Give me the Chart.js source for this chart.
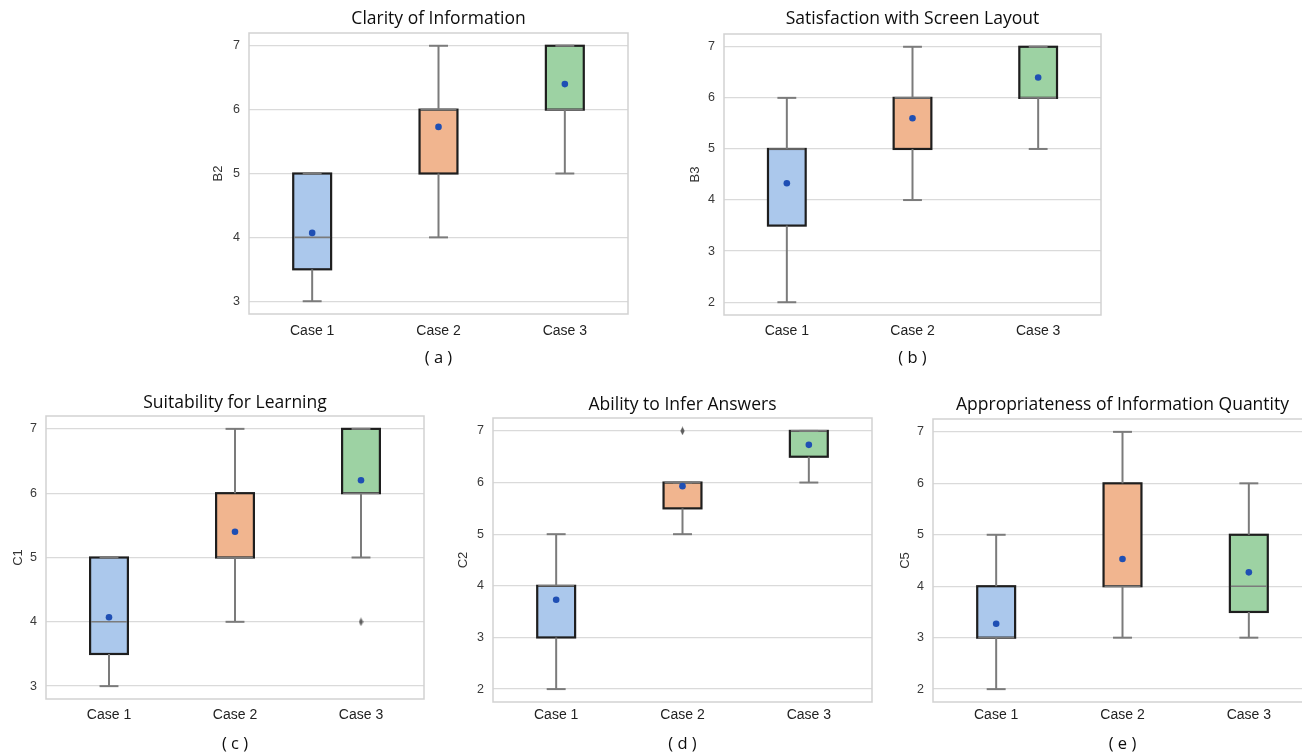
<!DOCTYPE html>
<html>
<head>
<meta charset="utf-8">
<title>Usability ratings by case</title>
<script src="https://cdn.jsdelivr.net/npm/chart.js@4.4.1/dist/chart.umd.min.js"></script>
<style>
  html, body { margin: 0; padding: 0; background: #ffffff; }
  body { position: relative; width: 1302px; height: 752px; overflow: hidden; }
  canvas { position: absolute; }
</style>
</head>
<body>
<canvas id="chartB2"></canvas>
<canvas id="chartB3"></canvas>
<canvas id="chartC1"></canvas>
<canvas id="chartC2"></canvas>
<canvas id="chartC5"></canvas>
<script>
// ---- shared categories and colours ----
const categories = ['Case 1', 'Case 2', 'Case 3'];
const boxColors = ['#abc8ec', '#f1b58f', '#9dd2a3'];

// ---- B2: Clarity of Information ----
const b2Low    = [3, 4, 5];
const b2Q1     = [3.5, 5, 6];
const b2Median = [4, 6, 6];
const b2Q3     = [5, 6, 7];
const b2High   = [5, 7, 7];
const b2Mean   = [4.07, 5.73, 6.4];
const b2Outliers = [];
const b2Ticks  = [3, 4, 5, 6, 7];

// ---- B3: Satisfaction with Screen Layout ----
const b3Low    = [2, 4, 5];
const b3Q1     = [3.5, 5, 6];
const b3Median = [5, 6, 6];
const b3Q3     = [5, 6, 7];
const b3High   = [6, 7, 7];
const b3Mean   = [4.33, 5.6, 6.4];
const b3Outliers = [];
const b3Ticks  = [2, 3, 4, 5, 6, 7];

// ---- C1: Suitability for Learning ----
const c1Low    = [3, 4, 5];
const c1Q1     = [3.5, 5, 6];
const c1Median = [4, 5, 6];
const c1Q3     = [5, 6, 7];
const c1High   = [5, 7, 7];
const c1Mean   = [4.07, 5.4, 6.2];
const c1Outliers = [{ x: 'Case 3', y: 4 }];
const c1Ticks  = [3, 4, 5, 6, 7];

// ---- C2: Ability to Infer Answers ----
const c2Low    = [2, 5, 6];
const c2Q1     = [3, 5.5, 6.5];
const c2Median = [4, 6, 7];
const c2Q3     = [4, 6, 7];
const c2High   = [5, 6, 7];
const c2Mean   = [3.73, 5.93, 6.73];
const c2Outliers = [{ x: 'Case 2', y: 7 }];
const c2Ticks  = [2, 3, 4, 5, 6, 7];

// ---- C5: Appropriateness of Information Quantity ----
const c5Low    = [2, 3, 3];
const c5Q1     = [3, 4, 3.5];
const c5Median = [3, 4, 4];
const c5Q3     = [4, 6, 5];
const c5High   = [5, 7, 6];
const c5Mean   = [3.27, 4.53, 4.27];
const c5Outliers = [];
const c5Ticks  = [2, 3, 4, 5, 6, 7];

Chart.defaults.font.family = "'Liberation Sans', Arial, sans-serif";
Chart.defaults.color = '#333333';

const TITLE_SIZE = 17.5;
const CAPTION_SIZE = 16.5;

// thin diamond marker used for fliers
const flierMarker = (() => {
  const c = document.createElement('canvas');
  c.width = 5; c.height = 9;
  const g = c.getContext('2d');
  g.fillStyle = '#5e5e5e';
  g.beginPath();
  g.moveTo(2.5, 0.3); g.lineTo(4.6, 4.5); g.lineTo(2.5, 8.7); g.lineTo(0.4, 4.5);
  g.closePath(); g.fill();
  return c;
})();

// draws the frame, box outlines, whiskers, caps and medians from the stats arrays
function boxPlugin(low, q1, median, q3, high) {
  return {
    id: 'boxWhiskers',
    beforeDatasetsDraw(chart) {
      const a = chart.chartArea, ctx = chart.ctx;
      ctx.save();
      ctx.strokeStyle = '#d2d2d2';
      ctx.lineWidth = 1.5;
      ctx.strokeRect(a.left, a.top, a.right - a.left, a.bottom - a.top);
      ctx.restore();
    },
    afterDatasetDraw(chart, args) {
      if (args.index !== 0) return;
      const ctx = chart.ctx, ys = chart.scales.y;
      const seg = (x1, y1, x2, y2) => { ctx.beginPath(); ctx.moveTo(x1, y1); ctx.lineTo(x2, y2); ctx.stroke(); };
      args.meta.data.forEach((bar, i) => {
        const cx = bar.x, half = bar.width / 2;
        const yQ1 = ys.getPixelForValue(q1[i]);
        const yQ3 = ys.getPixelForValue(q3[i]);
        const yLo = ys.getPixelForValue(low[i]);
        const yHi = ys.getPixelForValue(high[i]);
        const yMed = ys.getPixelForValue(median[i]);
        ctx.save();
        ctx.lineCap = 'butt';
        // box outline
        ctx.strokeStyle = '#1e1e1e';
        ctx.lineWidth = 2.2;
        ctx.strokeRect(cx - half, yQ3, 2 * half, yQ1 - yQ3);
        // whiskers
        ctx.strokeStyle = '#7b7b7b';
        ctx.lineWidth = 2;
        if (low[i] < q1[i]) seg(cx, yQ1, cx, yLo);
        if (high[i] > q3[i]) seg(cx, yQ3, cx, yHi);
        // caps
        seg(cx - half / 2, yLo, cx + half / 2, yLo);
        seg(cx - half / 2, yHi, cx + half / 2, yHi);
        // median
        ctx.lineWidth = 1.6;
        seg(cx - half + 1, yMed, cx + half - 1, yMed);
        ctx.restore();
      });
    }
  };
}

function makeChart(id, cfg) {
  const canvas = document.getElementById(id);
  const box = cfg.box, plot = cfg.plot;
  canvas.width = box.w; canvas.height = box.h;
  canvas.style.left = box.x + 'px';
  canvas.style.top = box.y + 'px';
  canvas.style.width = box.w + 'px';
  canvas.style.height = box.h + 'px';

  const titleLine = TITLE_SIZE * 1.2;
  const capLine = CAPTION_SIZE * 1.2;
  const titleTop = cfg.titleY - box.y - titleLine / 2;
  const titleBottom = Math.max(0, (plot.t - box.y) - titleTop - titleLine);
  const xAxisH = 28;
  const capTop = cfg.captionY - plot.b - xAxisH - capLine / 2;
  const capBottom = Math.max(0, (box.y + box.h - plot.b) - xAxisH - capTop - capLine);

  return new Chart(canvas, {
    type: 'bar',
    data: {
      labels: categories,
      datasets: [
        {
          type: 'bar',
          data: cfg.q1.map((v, i) => [v, cfg.q3[i]]),
          backgroundColor: boxColors,
          borderWidth: 0,
          barPercentage: 0.3,
          categoryPercentage: 1.0,
          order: 3
        },
        {
          type: 'line',
          data: cfg.outliers,
          showLine: false,
          pointStyle: flierMarker,
          pointRadius: 4,
          order: 2
        },
        {
          type: 'line',
          data: cfg.mean,
          showLine: false,
          pointStyle: 'circle',
          pointRadius: 3.3,
          pointBackgroundColor: '#1f4fb4',
          pointBorderWidth: 0,
          order: 1
        }
      ]
    },
    options: {
      responsive: false,
      animation: false,
      devicePixelRatio: 1,
      layout: { padding: { left: 0, top: 0, right: box.x + box.w - plot.r, bottom: 0 } },
      plugins: {
        legend: { display: false },
        tooltip: { enabled: false },
        title: {
          display: true,
          text: cfg.title,
          fullSize: false,
          color: '#0d0d0d',
          font: { family: "'Open Sans', 'Noto Sans', sans-serif", size: TITLE_SIZE, weight: 'normal', lineHeight: 1.2 },
          padding: { top: titleTop, bottom: titleBottom }
        },
        subtitle: {
          display: true,
          position: 'bottom',
          text: cfg.caption,
          fullSize: false,
          color: '#0d0d0d',
          font: { family: "'Open Sans', 'Noto Sans', sans-serif", size: CAPTION_SIZE, weight: 'normal', lineHeight: 1.2 },
          padding: { top: capTop, bottom: capBottom }
        }
      },
      scales: {
        x: {
          grid: { display: false, drawTicks: false },
          border: { display: false },
          ticks: { color: '#222222', font: { size: 14 }, padding: cfg.labelY - plot.b - 7.5 },
          afterFit(s) { s.height = xAxisH; }
        },
        y: {
          min: cfg.yMin,
          max: cfg.yMax,
          grid: { color: '#dadada', lineWidth: 1.3, drawTicks: false },
          border: { display: false },
          ticks: { color: '#3a3a3a', font: { size: 12.5 }, padding: 9 },
          afterBuildTicks(s) { s.ticks = cfg.ticks.map(v => ({ value: v })); },
          title: {
            display: true,
            text: cfg.yLabel,
            color: '#333333',
            font: { size: 13, lineHeight: 1.2 },
            padding: { top: cfg.yLabelX - box.x - 7.8, bottom: 0 }
          },
          afterFit(s) { s.width = plot.l - box.x; }
        }
      }
    },
    plugins: [boxPlugin(cfg.low, cfg.q1, cfg.median, cfg.q3, cfg.high)]
  });
}

makeChart('chartB2', {
  box: { x: 190, y: 0, w: 460, h: 372 }, plot: { l: 249, t: 33, r: 628, b: 314 },
  titleY: 19, labelY: 330, captionY: 358, yLabelX: 218,
  title: 'Clarity of Information', caption: '( a )', yLabel: 'B2',
  yMin: 2.8, yMax: 7.2, ticks: b2Ticks,
  low: b2Low, q1: b2Q1, median: b2Median, q3: b2Q3, high: b2High, mean: b2Mean, outliers: b2Outliers
});

makeChart('chartB3', {
  box: { x: 650, y: 0, w: 470, h: 372 }, plot: { l: 724, t: 34, r: 1101, b: 315 },
  titleY: 19, labelY: 330, captionY: 358, yLabelX: 695,
  title: 'Satisfaction with Screen Layout', caption: '( b )', yLabel: 'B3',
  yMin: 1.75, yMax: 7.25, ticks: b3Ticks,
  low: b3Low, q1: b3Q1, median: b3Median, q3: b3Q3, high: b3High, mean: b3Mean, outliers: b3Outliers
});

makeChart('chartC1', {
  box: { x: 0, y: 380, w: 440, h: 374 }, plot: { l: 46, t: 416, r: 424, b: 699 },
  titleY: 403, labelY: 714, captionY: 744, yLabelX: 18,
  title: 'Suitability for Learning', caption: '( c )', yLabel: 'C1',
  yMin: 2.8, yMax: 7.2, ticks: c1Ticks,
  low: c1Low, q1: c1Q1, median: c1Median, q3: c1Q3, high: c1High, mean: c1Mean, outliers: c1Outliers
});

makeChart('chartC2', {
  box: { x: 440, y: 380, w: 440, h: 374 }, plot: { l: 493, t: 418, r: 872, b: 702 },
  titleY: 405, labelY: 714, captionY: 744, yLabelX: 463,
  title: 'Ability to Infer Answers', caption: '( d )', yLabel: 'C2',
  yMin: 1.75, yMax: 7.25, ticks: c2Ticks,
  low: c2Low, q1: c2Q1, median: c2Median, q3: c2Q3, high: c2High, mean: c2Mean, outliers: c2Outliers
});

makeChart('chartC5', {
  box: { x: 880, y: 380, w: 450, h: 374 }, plot: { l: 933, t: 419, r: 1312, b: 702 },
  titleY: 405, labelY: 714, captionY: 744, yLabelX: 905,
  title: 'Appropriateness of Information Quantity', caption: '( e )', yLabel: 'C5',
  yMin: 1.75, yMax: 7.25, ticks: c5Ticks,
  low: c5Low, q1: c5Q1, median: c5Median, q3: c5Q3, high: c5High, mean: c5Mean, outliers: c5Outliers
});
</script>
</body>
</html>
